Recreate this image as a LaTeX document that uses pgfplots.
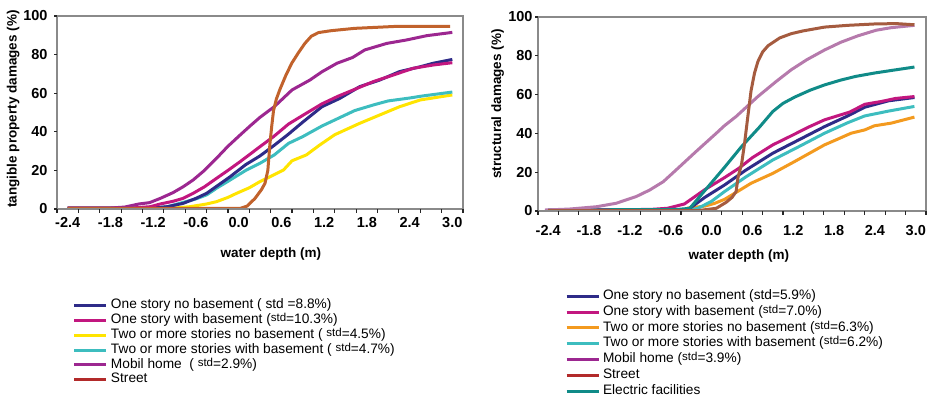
\documentclass[border=0pt]{standalone}
\usepackage{pgfplots}
\pgfplotsset{compat=1.18}
\usepackage{fontspec}
\setmainfont{Liberation Sans}
\definecolor{navyC}{HTML}{2E2B88}
\definecolor{magC}{HTML}{C2177F}
\definecolor{yelC}{HTML}{FFE400}
\definecolor{turC}{HTML}{3DBDBF}
\definecolor{mobC}{HTML}{9C2790}
\definecolor{strL}{HTML}{C1622C}
\definecolor{strLeg}{HTML}{B22A2A}
\definecolor{oraC}{HTML}{F39A1F}
\definecolor{mauC}{HTML}{B67AAC}
\definecolor{strR}{HTML}{A55B3F}
\definecolor{teaC}{HTML}{108B88}
\definecolor{frameC}{HTML}{8A8A8A}
\newcommand{\std}{\raisebox{2pt}{\fontsize{11.5}{12}\selectfont std}}
\pgfplotsset{
  common/.style={
    scale only axis,
    xmin=-2.55, xmax=3.15, ymin=0, ymax=100,
    axis line style={draw=frameC, line width=1.6pt},
    tick pos=left, tick align=outside,
    xtick={-2.4,-1.8,-1.2,-0.6,0,0.6,1.2,1.8,2.4,3.0},
    xticklabels={-2.4,-1.8,-1.2,-0.6,0.0,0.6,1.2,1.8,2.4,3.0},
    major x tick style={draw=none},
    major tick length=3pt,
    ytick={0,20,40,60,80,100},
    yticklabels={0,20,40,60,80,100},
    major y tick style={draw=none},
    after end axis/.code={
      \fill[frameC] ([xshift=-0.8pt,yshift=-0.8pt]rel axis cs:0,0) rectangle ([xshift=0.8pt,yshift=0.8pt]rel axis cs:1,0);
      \fill[frameC] ([xshift=-0.8pt,yshift=-0.8pt]rel axis cs:0,1) rectangle ([xshift=0.8pt,yshift=0.8pt]rel axis cs:1,1);
      \fill[frameC] ([xshift=-0.8pt,yshift=-0.8pt]rel axis cs:0,0) rectangle ([xshift=0.8pt,yshift=0.8pt]rel axis cs:0,1);
      \fill[frameC] ([xshift=-0.8pt,yshift=-0.8pt]rel axis cs:1,0) rectangle ([xshift=0.8pt,yshift=0.8pt]rel axis cs:1,1);
      \foreach \t [evaluate=\t as \r using \t/19] in {0,1,...,19} {
        \fill[black!85] ([xshift=-0.6pt]rel axis cs:\r,0) rectangle ([xshift=0.6pt,yshift=-4.5pt]rel axis cs:\r,0);
      }
      \foreach \r in {0,0.2,0.4,0.6,0.8,1} {
        \fill[black!85] ([xshift=-3.5pt,yshift=-0.6pt]rel axis cs:0,\r) rectangle ([yshift=0.6pt]rel axis cs:0,\r);
      }
    },
    ticklabel style={font=\fontsize{14.5}{15}\selectfont\bfseries},
    label style={font=\fontsize{13.5}{14}\selectfont\bfseries},
    every axis plot/.append style={line width=3pt, line join=round},
    legend image code/.code={\draw[#1, line width=3pt] (0pt,0pt) -- (32pt,0pt);},
    legend cell align=left,
    legend style={draw=none, fill=none, inner sep=0pt, outer sep=0pt,
      font=\fontsize{13.7}{14}\selectfont,
      nodes={inner sep=0pt, text height=10pt, text depth=3.5pt},
      /tikz/every odd column/.append style={column sep=3pt}},
  }
}
\begin{document}
\begin{tikzpicture}[x=1pt,y=1pt]
\useasboundingbox (0,0) rectangle (931,398);
% ---------------- left chart ----------------
\begin{axis}[common,
  at={(57pt,189pt)}, anchor=south west, width=406pt, height=193pt,
  xlabel={water depth (m)}, ylabel={tangible property damages (\%)},
  xlabel style={at={(axis description cs:0.527,-0.233)}, anchor=center},
  ylabel style={at={(axis description cs:-0.108,0.518)}, anchor=center},
  yticklabel style={xshift=-3pt},
  xticklabel style={yshift=-2pt},
  legend style={at={(axis description cs:0.0394,-0.466)}, anchor=north west,
    row sep=1.3pt},
]
\addplot[yelC, forget plot] coordinates {(-2.4,0.5) (-0.9,0.5) (-0.68,1.2) (-0.45,2.6) (-0.31,3.8) (-0.15,6) (-0.03,8.1) (0.15,11) (0.3,14.2) (0.49,17.6) (0.63,20.2) (0.75,25) (0.95,28) (1.14,33.2) (1.35,38.5) (1.7,44.4) (1.98,48.7) (2.26,53) (2.55,56.5) (3.0,59.1)};
\addplot[turC, forget plot] coordinates {(-2.4,0.5) (-1.2,0.5) (-1.0,1.2) (-0.82,3) (-0.6,5.2) (-0.45,7.3) (-0.3,11) (-0.12,15) (0.1,20) (0.3,23.7) (0.5,28) (0.7,34) (0.9,37.5) (1.17,43) (1.4,47) (1.63,51) (1.9,54) (2.1,56) (2.4,57.5) (2.57,58.5) (3.0,60.6)};
\addplot[navyC, forget plot] coordinates {(-2.4,0.5) (-1.2,0.5) (-1.0,1.2) (-0.78,2.9) (-0.6,5.5) (-0.45,8.1) (-0.3,12) (-0.12,16.7) (0.1,23) (0.3,27.5) (0.5,33) (0.7,38.8) (0.9,45) (1.17,53) (1.42,57.3) (1.7,63.4) (1.98,66.8) (2.26,71.2) (2.55,73.7) (2.73,75.5) (3.0,77.5)};
\addplot[magC, forget plot] coordinates {(-2.4,0.5) (-1.5,0.5) (-1.24,1.2) (-1.1,2.6) (-0.92,4) (-0.78,5.5) (-0.64,8.1) (-0.48,11.5) (-0.31,15.9) (-0.15,20) (0.02,24.5) (0.3,32.3) (0.49,37.5) (0.7,44) (0.9,48.5) (1.17,54.5) (1.4,58.5) (1.61,61.7) (1.89,66) (2.17,69.4) (2.45,72.9) (2.73,74.6) (3.0,75.8)};
\addplot[mobC, forget plot] coordinates {(-2.4,0.5) (-1.8,0.5) (-1.6,1) (-1.4,2.6) (-1.25,3.3) (-1.1,5.5) (-0.92,8.5) (-0.78,11.5) (-0.64,15) (-0.48,20) (-0.31,26.3) (-0.15,32.5) (0.02,38.3) (0.16,43) (0.3,47.5) (0.5,53) (0.75,61.7) (1.0,66.8) (1.17,71.1) (1.38,75.5) (1.6,78.5) (1.77,82.4) (2.08,85.8) (2.36,87.6) (2.64,89.8) (3.0,91.5)};
\addplot[strL, forget plot] coordinates {(-2.4,0.3) (0.02,0.3) (0.12,1.5) (0.23,5.5) (0.32,10) (0.37,13.3) (0.41,20) (0.44,34) (0.465,43) (0.49,51) (0.53,57) (0.58,62) (0.66,69) (0.745,75.5) (0.84,81) (0.93,85.8) (1.02,89.5) (1.12,91.4) (1.3,92.4) (1.63,93.6) (2.2,94.6) (2.97,94.6)};
\addlegendimage{navyC}
\addlegendentry{One story no basement ( std =8.8\%)}
\addlegendimage{magC}
\addlegendentry{One story with basement (\std=10.3\%)}
\addlegendimage{yelC}
\addlegendentry{Two or more stories no basement ( \std =4.5\%)}
\addlegendimage{turC}
\addlegendentry{Two or more stories with basement ( \std =4.7\%)}
\addlegendimage{mobC}
\addlegendentry{Mobil home~~( \std=2.9\%)}
\addlegendimage{strLeg}
\addlegendentry{Street}
\end{axis}
% ---------------- right chart ----------------
\begin{axis}[common,
  at={(538pt,187pt)}, anchor=south west, width=388pt, height=194pt,
  xlabel={water depth (m)}, ylabel={structural damages (\%)},
  xlabel style={at={(axis description cs:0.518,-0.232)}, anchor=center},
  ylabel style={at={(axis description cs:-0.104,0.552)}, anchor=center},
  yticklabel style={xshift=1pt},
  xticklabel style={yshift=-8pt},
  legend style={at={(axis description cs:0.0696,-0.405)}, anchor=north west,
    row sep=2.3pt},
]
\addplot[oraC, forget plot] coordinates {(-2.4,0.3) (-0.4,0.5) (-0.35,1.5) (-0.1,2.5) (0.05,4) (0.19,6) (0.38,10) (0.58,14.3) (0.9,19.4) (1.22,25.5) (1.45,30) (1.66,34.1) (1.85,37) (2.05,40.1) (2.25,41.8) (2.39,43.9) (2.64,45.3) (2.98,48.4)};
\addplot[turC, forget plot] coordinates {(-2.4,0.3) (-0.3,0.5) (-0.2,1.4) (0.0,5) (0.19,10) (0.5,17.5) (0.9,26.3) (1.3,33.5) (1.66,40.1) (2.0,45.5) (2.25,49) (2.6,51.5) (2.98,53.9)};
\addplot[navyC, forget plot] coordinates {(-2.4,0.3) (-0.4,0.5) (-0.32,1.4) (-0.1,7) (0.19,13.4) (0.5,21) (0.9,29.8) (1.3,37) (1.66,43.5) (2.0,49) (2.25,53.5) (2.6,56.8) (2.98,58.5)};
\addplot[magC, forget plot] coordinates {(-2.4,0.5) (-0.9,0.8) (-0.65,1.4) (-0.4,3.6) (-0.1,11) (0.19,17.2) (0.4,22) (0.6,27.5) (0.9,34.1) (1.15,38.4) (1.44,43.5) (1.66,47) (2.03,51) (2.25,55) (2.5,56.5) (2.7,58) (2.98,59)};
\addplot[teaC, forget plot] coordinates {(-2.4,0.5) (-0.5,0.8) (-0.32,1.4) (0.19,22.5) (0.44,33.2) (0.7,43.1) (0.9,51.3) (1.05,55.5) (1.22,58.7) (1.45,62.3) (1.66,65) (1.9,67.5) (2.12,69.4) (2.39,71.1) (2.71,72.8) (2.98,74.2)};
\addplot[mauC, forget plot] coordinates {(-2.45,0.5) (-2.09,1) (-1.69,2.2) (-1.4,4) (-1.11,7.4) (-0.91,10.8) (-0.71,15.1) (-0.52,21.2) (-0.23,30.6) (0.07,40.1) (0.19,44) (0.36,48.7) (0.68,59) (0.95,66.8) (1.17,72.8) (1.4,78) (1.66,83) (1.9,87) (2.15,90.3) (2.42,93.2) (2.64,94.5) (2.98,95.7)};
\addplot[strR, forget plot] coordinates {(-2.4,0.2) (-0.2,0.2) (0.07,1.4) (0.215,4.5) (0.3,7) (0.36,10) (0.39,17.7) (0.44,24) (0.485,35) (0.53,48) (0.58,62) (0.63,71) (0.68,77) (0.75,82) (0.83,85.2) (1.0,89.2) (1.17,91.4) (1.34,92.8) (1.66,94.8) (2.0,95.7) (2.39,96.4) (2.71,96.6) (2.98,96)};
\addlegendimage{navyC}
\addlegendentry{One story no basement (std=5.9\%)}
\addlegendimage{magC}
\addlegendentry{One story with basement (\std=7.0\%)}
\addlegendimage{oraC}
\addlegendentry{Two or more stories no basement (\std=6.3\%)}
\addlegendimage{turC}
\addlegendentry{Two or more stories with basement (\std=6.2\%)}
\addlegendimage{mobC}
\addlegendentry{Mobil home (\std=3.9\%)}
\addlegendimage{strLeg}
\addlegendentry{Street}
\addlegendimage{teaC}
\addlegendentry{Electric facilities}
\end{axis}
\end{tikzpicture}
\end{document}
